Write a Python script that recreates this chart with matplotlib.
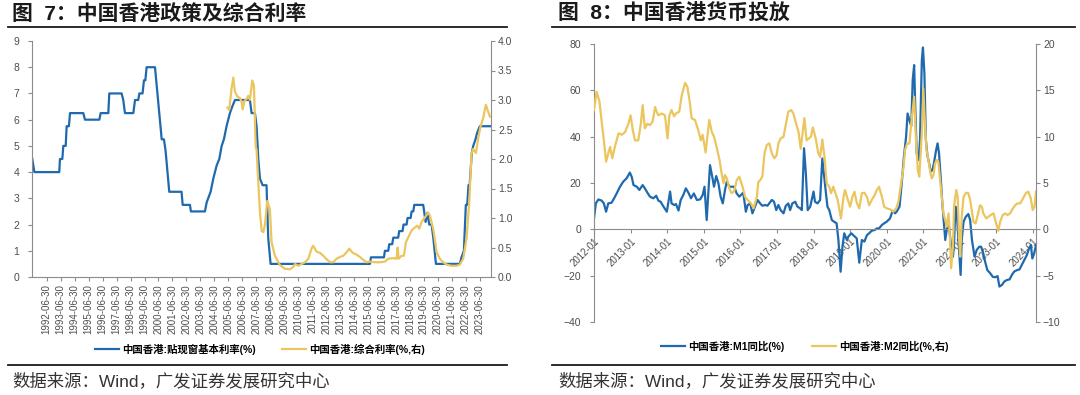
import matplotlib
matplotlib.use("Agg")
import matplotlib.pyplot as plt
from matplotlib.lines import Line2D

plt.rcParams['font.family'] = ['Liberation Sans', 'Noto Sans CJK SC']

C_BLUE = "#1f6aae"
C_GOLD = "#ebc55e"
C_AXIS = "#8c8c8c"
C_TICK = "#4d4d4d"

# ---- 图7: base rate (left axis) / composite rate (right axis), decimal years
BASE_T = [1991.47, 1991.62, 1993.40, 1993.45, 1993.62, 1993.69, 1993.86, 1993.93, 1994.09, 1994.17,
          1995.12, 1995.24, 1996.27, 1996.36, 1996.91, 1996.98, 1997.86, 1997.98, 1998.10, 1998.70,
          1998.82, 1999.05, 1999.13, 1999.36, 1999.46, 1999.56, 1999.65, 2000.25, 2000.73, 2000.89,
          2001.01, 2001.27, 2002.15, 2002.23, 2002.75, 2002.82, 2003.82, 2003.95, 2004.23, 2004.42,
          2004.66, 2004.85, 2005.02, 2005.18, 2005.37, 2005.61, 2005.78, 2005.97, 2007.04, 2007.16,
          2007.40, 2007.52, 2007.64, 2007.76, 2007.95, 2008.23, 2008.35, 2008.52, 2015.63, 2015.70,
          2016.63, 2016.70, 2016.94, 2017.01, 2017.22, 2017.30, 2017.65, 2017.72, 2017.96, 2018.03,
          2018.25, 2018.32, 2018.54, 2018.61, 2018.73, 2018.80, 2019.44, 2019.61, 2019.75, 2019.87,
          2020.04, 2020.16, 2020.35, 2022.06, 2022.18, 2022.35, 2022.49, 2022.59, 2022.68, 2022.76,
          2022.92, 2023.02, 2023.18, 2023.30, 2023.49, 2024.26]
BASE_V = [4.5, 4.0, 4.0, 4.5, 4.5, 5.0, 5.0, 5.75, 5.75, 6.25,
          6.25, 6.0, 6.0, 6.25, 6.25, 7.0, 7.0, 6.75, 6.25, 6.25,
          6.75, 6.75, 7.0, 7.0, 7.5, 7.5, 8.0, 8.0, 5.25, 5.25,
          4.8, 3.25, 3.25, 2.75, 2.75, 2.5, 2.5, 2.85, 3.25, 3.75,
          4.25, 4.5, 5.0, 5.25, 5.75, 6.25, 6.5, 6.75, 6.75, 6.25,
          6.25, 5.75, 4.5, 3.75, 3.5, 3.5, 1.5, 0.5, 0.5, 0.75,
          0.75, 1.0, 1.0, 1.25, 1.25, 1.5, 1.5, 1.75, 1.75, 2.0,
          2.0, 2.25, 2.25, 2.5, 2.5, 2.75, 2.75, 2.1, 2.45, 2.0,
          2.0, 1.5, 0.5, 0.5, 0.75, 1.0, 2.75, 2.75, 3.5, 3.5,
          4.75, 5.0, 5.25, 5.5, 5.75, 5.75]

COMP_T = [2005.44, 2005.56, 2005.73, 2005.85, 2005.97, 2006.14, 2006.33, 2006.45, 2006.52, 2006.64,
          2006.81, 2006.92, 2007.04, 2007.21, 2007.33, 2007.45, 2007.52, 2007.64, 2007.76, 2007.88,
          2008.00, 2008.12, 2008.28, 2008.47, 2008.59, 2008.83, 2009.19, 2009.55, 2009.90, 2010.14,
          2010.26, 2010.50, 2010.74, 2010.98, 2011.22, 2011.45, 2011.57, 2011.81, 2012.05, 2012.29,
          2012.53, 2012.77, 2013.00, 2013.24, 2013.48, 2013.72, 2013.96, 2014.15, 2014.39, 2014.67,
          2014.91, 2015.15, 2015.39, 2015.63, 2015.98, 2016.34, 2016.70, 2016.94, 2017.30, 2017.53,
          2017.61, 2017.68, 2017.89, 2018.06, 2018.20, 2018.37, 2018.61, 2018.85, 2019.01, 2019.16,
          2019.32, 2019.56, 2019.80, 2019.92, 2020.16, 2020.40, 2020.63, 2020.87, 2021.11, 2021.47,
          2021.83, 2022.06, 2022.30, 2022.54, 2022.73, 2022.90, 2023.02, 2023.21, 2023.38, 2023.54,
          2023.73, 2023.92, 2024.09, 2024.21]
COMP_V = [2.87, 2.83, 3.20, 3.38, 3.14, 3.06, 3.03, 2.97, 2.84, 2.98,
          3.02, 3.07, 3.00, 3.33, 3.24, 2.22, 2.15, 1.60, 1.10, 0.78,
          0.76, 0.89, 1.29, 1.15, 0.59, 0.36, 0.20, 0.14, 0.13, 0.17,
          0.22, 0.19, 0.22, 0.25, 0.31, 0.48, 0.53, 0.43, 0.41, 0.36,
          0.30, 0.25, 0.25, 0.31, 0.34, 0.36, 0.42, 0.48, 0.41, 0.38,
          0.34, 0.29, 0.25, 0.26, 0.25, 0.25, 0.26, 0.31, 0.32, 0.31,
          0.50, 0.31, 0.36, 0.36, 0.59, 0.67, 0.79, 0.84, 0.87, 0.82,
          0.93, 1.01, 1.09, 1.04, 0.81, 0.42, 0.31, 0.25, 0.21, 0.19,
          0.19, 0.21, 0.31, 0.65, 1.26, 2.10, 2.17, 2.10, 2.36, 2.55,
          2.69, 2.92, 2.80, 2.72]

YEARS_7 = list(range(1992, 2024))
LABELS_7 = [f"{y}-06-30" for y in YEARS_7]

# ---- 图8: M1 yoy (left axis) / M2 yoy (right axis), decimal years
M1_T = [2012.00, 2012.05, 2012.12, 2012.21, 2012.27, 2012.33, 2012.39, 2012.48, 2012.55, 2012.62,
        2012.71, 2012.80, 2012.89, 2012.98, 2013.03, 2013.08, 2013.17, 2013.24, 2013.33, 2013.39,
        2013.46, 2013.53, 2013.62, 2013.70, 2013.76, 2013.82, 2013.90, 2013.99, 2014.08, 2014.12,
        2014.19, 2014.24, 2014.31, 2014.37, 2014.44, 2014.51, 2014.58, 2014.65, 2014.73, 2014.81,
        2014.90, 2014.97, 2015.02, 2015.08, 2015.17, 2015.24, 2015.28, 2015.34, 2015.40, 2015.46,
        2015.52, 2015.58, 2015.63, 2015.70, 2015.83, 2015.90, 2015.97, 2016.08, 2016.15, 2016.20,
        2016.27, 2016.33, 2016.40, 2016.47, 2016.54, 2016.60, 2016.68, 2016.74, 2016.79, 2016.86,
        2016.92, 2016.98, 2017.04, 2017.10, 2017.18, 2017.24, 2017.31, 2017.36, 2017.42, 2017.50,
        2017.56, 2017.63, 2017.68, 2017.74, 2017.79, 2017.84, 2017.91, 2018.00, 2018.04, 2018.11,
        2018.18, 2018.24, 2018.32, 2018.38, 2018.43, 2018.50, 2018.56, 2018.63, 2018.68, 2018.74,
        2018.79, 2018.84, 2018.91, 2018.95, 2019.03, 2019.18, 2019.25, 2019.32, 2019.39, 2019.46,
        2019.52, 2019.59, 2019.67, 2019.73, 2019.79, 2019.87, 2019.93, 2020.00, 2020.09, 2020.16,
        2020.23, 2020.27, 2020.35, 2020.41, 2020.47, 2020.53, 2020.57, 2020.62, 2020.67, 2020.71,
        2020.75, 2020.78, 2020.82, 2020.87, 2020.91, 2020.96, 2020.99, 2021.03, 2021.07, 2021.11,
        2021.17, 2021.20, 2021.25, 2021.29, 2021.35, 2021.39, 2021.43, 2021.48, 2021.52, 2021.57,
        2021.60, 2021.64, 2021.69, 2021.77, 2021.81, 2021.84, 2021.88, 2021.91, 2021.95, 2022.02,
        2022.05, 2022.10, 2022.16, 2022.23, 2022.28, 2022.33, 2022.40, 2022.46, 2022.53, 2022.58,
        2022.64, 2022.69, 2022.75, 2022.83, 2022.90, 2022.96, 2023.03, 2023.08, 2023.15, 2023.21,
        2023.28, 2023.36, 2023.42, 2023.48, 2023.56, 2023.63, 2023.69, 2023.76, 2023.83, 2023.89,
        2023.94, 2023.98, 2024.03, 2024.08]
M1_V = [4.7, 11.2, 12.9, 12.4, 11.2, 7.6, 11.2, 11.5, 13.4, 15.5,
        18.4, 20.6, 22.0, 24.5, 22.7, 19.1, 18.4, 17.0, 19.1, 17.7,
        15.8, 14.1, 13.4, 14.5, 12.4, 11.9, 9.8, 7.6, 16.3, 11.2,
        10.5, 10.9, 8.1, 12.7, 14.8, 17.7, 15.8, 13.4, 15.5, 12.7,
        12.9, 14.8, 18.4, 4.0, 27.7, 22.0, 18.4, 23.0, 19.9, 14.1,
        11.2, 17.0, 20.6, 18.4, 18.4, 15.5, 14.1, 15.8, 7.6, 10.5,
        11.2, 6.9, 9.8, 12.7, 11.2, 10.2, 10.5, 10.2, 11.2, 12.7,
        11.9, 8.3, 10.5, 8.3, 6.9, 10.1, 11.2, 8.3, 11.2, 11.9,
        9.8, 9.1, 8.3, 35.0, 24.2, 8.3, 9.8, 16.3, 11.9, 11.2,
        12.7, 30.6, 18.4, 9.8, 8.3, 4.0, 3.3, 2.6, -4.6, -18.3,
        -7.5, -1.7, -4.6, -3.2, -1.7, -3.9, -14.4, -4.6, -5.3, -2.5,
        -1.7, -0.6, -0.3, 0.4, 0.4, 1.9, 2.6, 3.3, 4.7, 8.0,
        6.9, 7.6, 9.8, 19.8, 31.4, 40.0, 50.0, 47.2, 44.6, 64.4,
        70.9, 52.9, 32.8, 29.9, 38.6, 73.1, 78.5, 67.3, 38.6, 32.1,
        27.8, 24.9, 25.6, 28.5, 34.2, 37.1, 32.8, 21.3, 11.2, 1.1,
        -4.6, -0.3, 3.3, -8.9, -11.8, -6.0, 9.8, 8.3, -1.7, -19.7,
        -4.6, 3.3, 5.4, 6.6, 4.0, -4.6, -11.8, -8.9, -7.5, -7.5,
        -10.4, -14.0, -17.6, -19.0, -20.5, -20.7, -20.2, -24.7, -24.0, -22.6,
        -21.9, -21.6, -19.7, -18.3, -17.6, -17.3, -15.4, -13.3, -11.1, -8.2,
        -6.8, -12.6, -10.4, -6.8]

M2_T = [2012.00, 2012.07, 2012.15, 2012.21, 2012.27, 2012.33, 2012.39, 2012.44, 2012.50, 2012.57,
        2012.67, 2012.76, 2012.85, 2012.94, 2013.00, 2013.06, 2013.12, 2013.21, 2013.28, 2013.33,
        2013.39, 2013.46, 2013.53, 2013.60, 2013.67, 2013.71, 2013.76, 2013.85, 2013.94, 2014.01,
        2014.06, 2014.12, 2014.19, 2014.24, 2014.33, 2014.40, 2014.49, 2014.55, 2014.61, 2014.67,
        2014.76, 2014.85, 2014.92, 2014.97, 2015.05, 2015.15, 2015.22, 2015.28, 2015.35, 2015.43,
        2015.49, 2015.54, 2015.58, 2015.63, 2015.70, 2015.76, 2015.83, 2015.90, 2015.97, 2016.06,
        2016.13, 2016.20, 2016.29, 2016.36, 2016.45, 2016.49, 2016.54, 2016.60, 2016.66, 2016.72,
        2016.79, 2016.86, 2016.93, 2016.99, 2017.04, 2017.10, 2017.18, 2017.24, 2017.31, 2017.39,
        2017.45, 2017.51, 2017.59, 2017.65, 2017.75, 2017.81, 2017.93, 2017.98, 2018.06, 2018.13,
        2018.18, 2018.24, 2018.30, 2018.36, 2018.43, 2018.48, 2018.54, 2018.66, 2018.75, 2018.82,
        2018.86, 2018.94, 2019.00, 2019.06, 2019.12, 2019.18, 2019.25, 2019.32, 2019.39, 2019.46,
        2019.52, 2019.59, 2019.67, 2019.73, 2019.79, 2019.87, 2019.93, 2020.00, 2020.09, 2020.18,
        2020.26, 2020.32, 2020.38, 2020.46, 2020.50, 2020.55, 2020.62, 2020.68, 2020.75, 2020.80,
        2020.85, 2020.89, 2020.97, 2021.00, 2021.05, 2021.09, 2021.14, 2021.19, 2021.23, 2021.28,
        2021.32, 2021.37, 2021.41, 2021.46, 2021.50, 2021.55, 2021.60, 2021.64, 2021.69, 2021.73,
        2021.76, 2021.81, 2021.84, 2021.90, 2021.94, 2021.98, 2022.01, 2022.05, 2022.10, 2022.17,
        2022.23, 2022.28, 2022.33, 2022.37, 2022.43, 2022.51, 2022.55, 2022.60, 2022.64, 2022.72,
        2022.78, 2022.84, 2022.92, 2022.99, 2023.05, 2023.10, 2023.17, 2023.24, 2023.30, 2023.37,
        2023.45, 2023.51, 2023.57, 2023.65, 2023.72, 2023.81, 2023.87, 2023.94, 2023.99, 2024.04,
        2024.08]
M2_V = [12.87, 14.85, 13.8, 11.6, 9.6, 7.3, 8.2, 8.9, 7.66, 8.9,
        10.36, 10.2, 10.5, 11.4, 12.3, 10.7, 9.6, 9.6, 11.4, 13.4,
        10.9, 11.4, 11.25, 11.6, 13.2, 12.7, 12.3, 12.5, 12.3, 9.8,
        12.3, 12.87, 12.2, 12.5, 12.7, 14.5, 15.8, 15.4, 13.95, 11.98,
        11.8, 10.7, 9.6, 10.2, 8.3, 11.8, 10.5, 10.0, 8.9, 7.5,
        6.0, 4.96, 5.86, 5.5, 4.4, 3.9, 4.1, 5.3, 5.68, 4.6,
        3.5, 3.16, 2.8, 2.26, 3.5, 5.1, 5.3, 5.68, 8.2, 9.1,
        9.28, 8.2, 7.66, 8.0, 9.28, 9.8, 10.0, 11.25, 12.7, 12.87,
        12.5, 11.6, 10.5, 8.7, 12.0, 9.6, 10.0, 11.0, 9.8, 8.2,
        7.8, 9.7, 7.8, 4.96, 4.6, 3.9, 4.6, 3.16, 1.18, 3.5,
        4.24, 3.16, 2.44, 3.5, 4.06, 2.87, 2.26, 3.9, 3.95, 3.5,
        2.6, 3.16, 3.7, 4.24, 4.6, 3.5, 2.44, 2.26, 2.16, 1.9,
        2.26, 2.98, 4.6, 6.76, 8.55, 9.2, 9.28, 11.8, 14.3, 9.6,
        6.4, 5.68, 11.1, 15.2, 11.1, 8.55, 7.48, 6.2, 5.5, 5.86,
        7.1, 7.48, 7.3, 5.32, 3.7, 1.72, 1.0, 0.28, 1.72, -1.15,
        -4.2, -1.9, 2.44, 4.24, 3.5, -1.15, -2.95, 1.36, 3.5, 3.95,
        3.9, 3.16, 1.9, 0.8, 0.64, 1.9, 2.6, 2.44, 1.72, 1.18,
        1.36, 1.54, 1.72, 0.64, -0.15, 0.82, 1.54, 1.72, 1.54, 1.72,
        2.26, 2.6, 2.8, 2.8, 3.3, 3.95, 4.06, 3.3, 2.08, 2.44,
        4.06]

YEARS_8 = list(range(2012, 2025))
LABELS_8 = [f"{y}-01" for y in YEARS_8]

W, H = 1080, 395


def fx(px):
    return px / W


def fy(py):
    return 1 - py / H


def panel_frame(fig, x0, x1, tx, title, source):
    fig.text(fx(tx), fy(14), title, fontsize=15, fontweight="bold",
             color="#1a1a1a", va="center", ha="left")
    for y in (27, 365):
        fig.add_artist(Line2D([fx(x0), fx(x1)], [fy(y), fy(y)],
                              transform=fig.transFigure, color="#1a1a1a", lw=1.3))
    fig.text(fx(tx), fy(381), source, fontsize=12.5, color="#333333",
             va="center", ha="left")


def style_axes(ax, axr):
    for s in ("top", "right"):
        ax.spines[s].set_visible(False)
    for s in ("top", "left", "bottom"):
        axr.spines[s].set_visible(False)
    for s in ("left", "bottom"):
        ax.spines[s].set_color(C_AXIS)
    axr.spines["right"].set_color(C_AXIS)
    ax.tick_params(axis="y", length=3, color=C_AXIS, labelsize=7.5,
                   labelcolor=C_TICK, pad=6)
    axr.tick_params(axis="y", length=3, color=C_AXIS, labelsize=7.5,
                    labelcolor=C_TICK, pad=2)
    ax.patch.set_visible(False)


fig = plt.figure(figsize=(W / 100, H / 100), dpi=100)

# ---------------- 图7 ----------------
ax1 = fig.add_axes([fx(32), fy(277), fx(491) - fx(32), fy(41) - fy(277)])
ax1r = ax1.twinx()
ax1.plot(BASE_T, BASE_V, color=C_BLUE, lw=1.6, solid_joinstyle="round")
ax1r.plot(COMP_T, COMP_V, color=C_GOLD, lw=1.6, solid_joinstyle="round")
ax1.set_xlim(1991.45, 2024.29)
ax1.set_ylim(0, 9)
ax1r.set_ylim(0, 4)
ax1.set_yticks(range(0, 10))
ax1r.set_yticks([i * 0.5 for i in range(9)])
ax1r.set_yticklabels([f"{i * 0.5:.1f}" for i in range(9)])
style_axes(ax1, ax1r)
ax1.set_xticks([y + 0.5 for y in YEARS_7])
ax1.set_xticklabels(LABELS_7, rotation=90)
ax1.tick_params(axis="x", length=3, color=C_AXIS, labelsize=7,
                labelcolor=C_TICK, pad=2)

h7 = [Line2D([], [], color=C_BLUE, lw=1.6), Line2D([], [], color=C_GOLD, lw=1.6)]
fig.legend(h7, ["中国香港:贴现窗基本利率(%)", "中国香港:综合利率(%,右)"],
           loc="center", bbox_to_anchor=(fx(260), fy(349)), ncol=2, frameon=False,
           prop={"size": 7.5, "weight": "bold"}, handlelength=2.3,
           handletextpad=0.3, columnspacing=2.6)
panel_frame(fig, 8, 507, 12, "图  7：中国香港政策及综合利率",
            "数据来源：Wind，广发证券发展研究中心")

# ---------------- 图8 ----------------
ax2 = fig.add_axes([fx(594), fy(322), fx(1036) - fx(594), fy(44) - fy(322)])
ax2r = ax2.twinx()
ax2.plot(M1_T, M1_V, color=C_BLUE, lw=1.6, solid_joinstyle="round")
ax2r.plot(M2_T, M2_V, color=C_GOLD, lw=1.6, solid_joinstyle="round")
ax2.set_xlim(2012.0, 2024.08)
ax2.set_ylim(-40, 80)
ax2r.set_ylim(-10, 20)
ax2.set_yticks(range(-40, 81, 20))
ax2r.set_yticks(range(-10, 21, 5))
style_axes(ax2, ax2r)
# the date axis crosses at zero; set it before the labels (it resets ticks)
ax2.spines["bottom"].set_position(("data", 0))
ax2.set_xticks([float(y) for y in YEARS_8])
ax2.set_xticklabels(LABELS_8, rotation=45, ha="right", va="top",
                    rotation_mode="anchor")
ax2.tick_params(axis="x", length=3, color=C_AXIS, labelsize=7,
                labelcolor=C_TICK, pad=2)

h8 = [Line2D([], [], color=C_BLUE, lw=1.6), Line2D([], [], color=C_GOLD, lw=1.6)]
fig.legend(h8, ["中国香港:M1同比(%)", "中国香港:M2同比(%,右)"],
           loc="center", bbox_to_anchor=(fx(805), fy(346)), ncol=2, frameon=False,
           prop={"size": 7.5, "weight": "bold"}, handlelength=2.3,
           handletextpad=0.3, columnspacing=2.6)
panel_frame(fig, 552, 1075, 558, "图  8：中国香港货币投放",
            "数据来源：Wind，广发证券发展研究中心")

fig.savefig("out.png", dpi=100)
